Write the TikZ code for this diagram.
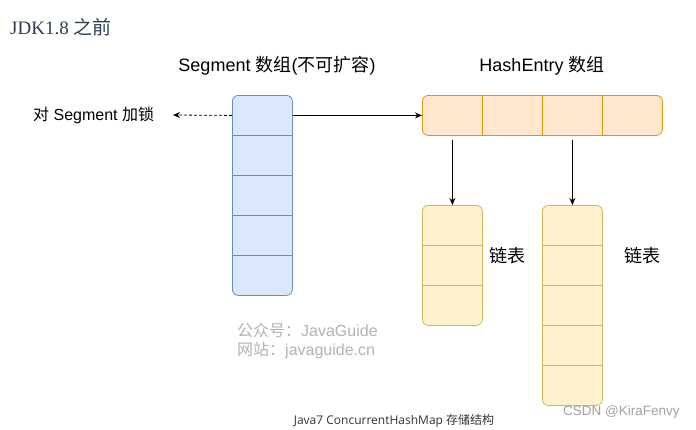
\documentclass[tikz,border=0pt]{standalone}
\usepackage{fontspec}
\setmainfont{Liberation Sans}
\newfontfamily\cjk{Noto Sans CJK SC}
\newfontfamily\serifjdk{Liberation Serif}
\newfontfamily\capfont{Open Sans}
\usetikzlibrary{arrows.meta,calc}
\definecolor{segfill}{HTML}{DAE8FC}
\definecolor{segline}{HTML}{6C8EBF}
\definecolor{hefill}{HTML}{FFE6CC}
\definecolor{heline}{HTML}{D79B00}
\definecolor{lsfill}{HTML}{FFF2CC}
\definecolor{lsline}{HTML}{D6B656}
\definecolor{titlecol}{HTML}{2C3E50}
\definecolor{wmcol}{HTML}{B3B3B3}
\definecolor{capcol}{HTML}{333333}
\begin{document}
\begin{tikzpicture}[x=1pt,y=-1pt,
  arr/.style={line width=0.8pt,-{Stealth[length=7pt,width=6pt]}},
  segbox/.style={draw=segline,fill=segfill,line width=0.8pt,rounded corners=6pt,minimum width=60pt,inner sep=0pt,anchor=north west},
  hebox/.style={draw=heline,fill=hefill,line width=0.8pt,rounded corners=6pt,minimum height=40pt,minimum width=240pt,inner sep=0pt,anchor=north west},
  lsbox/.style={draw=lsline,fill=lsfill,line width=0.8pt,rounded corners=6pt,minimum width=60pt,inner sep=0pt,anchor=north west},
  lbl/.style={font=\fontsize{18}{20}\selectfont,inner sep=0pt},
  wm/.style={font=\fontsize{16}{18}\selectfont,text=wmcol,inner sep=0pt,anchor=west}]
\useasboundingbox (0,0) rectangle (696,429);
\fill[white] (0,0) rectangle (696,429);

% title
\node[anchor=west,inner sep=0pt,text=titlecol,font=\fontsize{19}{21}\selectfont] (title) at (10,27) {\serifjdk JDK1.8 \cjk 之前};

% Segment array
\node[segbox,minimum height=200pt] (seg) at (232,95) {};
\foreach \i in {1,...,4} {
  \draw[segline,line width=0.8pt] ($(seg.north west)!\i/5!(seg.south west)$) -- ($(seg.north east)!\i/5!(seg.south east)$);
}

% HashEntry array
\node[hebox] (he) at (422,95) {};
\foreach \i in {1,...,3} {
  \draw[heline,line width=0.8pt] ($(he.north west)!\i/4!(he.north east)$) -- ($(he.south west)!\i/4!(he.south east)$);
}

% lists
\node[lsbox,minimum height=120pt] (la) at (422,205) {};
\foreach \i in {1,2} {
  \draw[lsline,line width=0.8pt] ($(la.north west)!\i/3!(la.south west)$) -- ($(la.north east)!\i/3!(la.south east)$);
}
\node[lsbox,minimum height=200pt] (lb) at (542,205) {};
\foreach \i in {1,...,4} {
  \draw[lsline,line width=0.8pt] ($(lb.north west)!\i/5!(lb.south west)$) -- ($(lb.north east)!\i/5!(lb.south east)$);
}

% labels
\node[lbl] (seglbl) at (277,66) {Segment \cjk 数组\normalfont(\cjk 不可扩容\normalfont)};
\node[lbl] (helbl) at (542,66) {HashEntry \cjk 数组};
\node[lbl,anchor=west,font=\fontsize{16}{18}\selectfont] (lock) at (33,115) {\cjk 对\normalfont{} Segment \cjk 加锁};
\node[lbl,anchor=west] (lka) at (489,256) {\cjk 链表};
\node[lbl,anchor=west] (lkb) at (624,256) {\cjk 链表};
\coordinate (lockend) at (173,115);

% connectors
\draw[arr] (seg.east |- he.west) -- (he.west);
\draw[arr,dashed,dash pattern=on 3pt off 2pt] (seg.west |- he.west) -- (lockend);
\draw[arr] ([yshift=-4pt]he.south -| la.north) -- (la.north);
\draw[arr] ([yshift=-4pt]he.south -| lb.north) -- (lb.north);

% watermark
\node[wm] (wm1) at (237,330) {\cjk 公众号：\normalfont JavaGuide};
\node[wm] (wm2) at (237,350) {\cjk 网站：\normalfont javaguide.cn};

% caption
\node[inner sep=0pt,text=capcol,font=\fontsize{12}{14}\selectfont] (cap) at (394,421) {\capfont Java7 ConcurrentHashMap \cjk 存储结构};
\node[inner sep=0pt,anchor=west,text=wmcol!90!black,font=\fontsize{13.5}{16}\selectfont] (csdn) at (563,412) {CSDN @KiraFenvy};
\end{tikzpicture}
\end{document}
